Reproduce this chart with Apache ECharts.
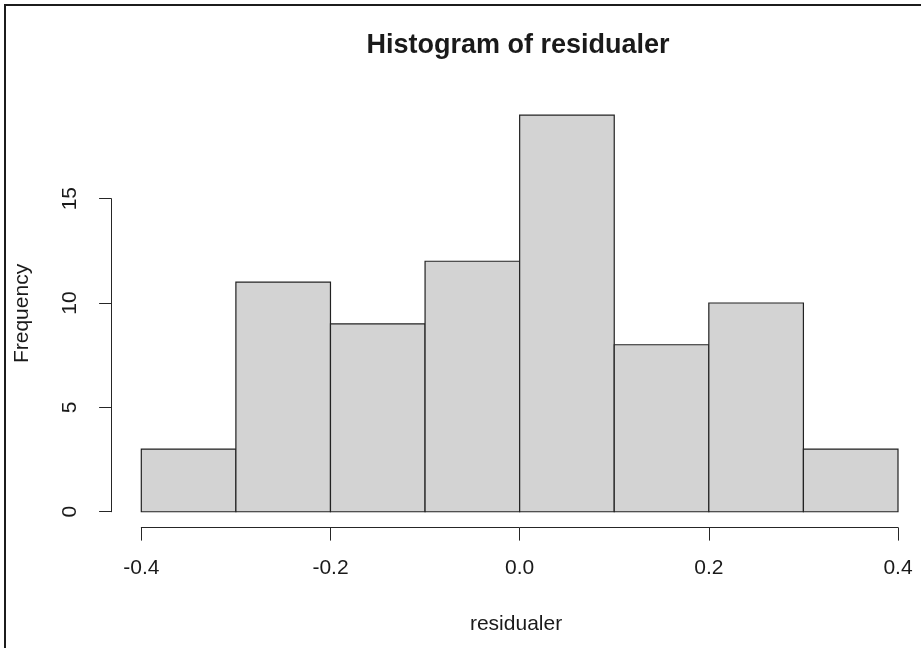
<!DOCTYPE html>
<html>
<head>
<meta charset="utf-8">
<style>
  html, body { margin: 0; padding: 0; background: #ffffff; }
  #chart { width: 921px; height: 648px; }
</style>
<script src="https://cdn.jsdelivr.net/npm/echarts@6/dist/echarts.min.js"></script>
</head>
<body>
<div id="chart"></div>
<script>
// Histogram bins (left edge, right edge) and counts
const binStarts = [-0.4, -0.3, -0.2, -0.1, 0.0, 0.1, 0.2, 0.3];
const binEnds   = [-0.3, -0.2, -0.1, 0.0, 0.1, 0.2, 0.3, 0.4];
const counts    = [3, 11, 9, 12, 19, 8, 10, 3];

// Tick values for the two axes
const xTicks = [-0.4, -0.2, 0.0, 0.2, 0.4];
const yTicks = [0, 5, 10, 15];

const titleText = 'Histogram of residualer';
const xLabel = 'residualer';
const yLabel = 'Frequency';

const FONT = '"Liberation Sans", Arial, sans-serif';
const INK = '#1a1a1a';

// Plot region spans the data range expanded by 4% on each side
const xMin = xTicks[0], xMax = xTicks[xTicks.length - 1];
const xPad = (xMax - xMin) * 0.04;
const yTop = Math.max.apply(null, counts);
const yPad = yTop * 0.04;

const binData = binStarts.map((s, i) => [s, binEnds[i], counts[i]]);

// Pixel layout
const regionLeft = 111.1, regionTop = 99.3, regionH = 428.3;
const xAxisLeft = 141.3, xAxisW = 756.7;
const pxPerY = regionH / (yTop + 2 * yPad);
const zeroY = regionTop + regionH - yPad * pxPerY;
const yAxisTop = zeroY - yTicks[yTicks.length - 1] * pxPerY;
const labelGridW = 2 * (518 - regionLeft);

const chart = echarts.init(document.getElementById('chart'), null, { renderer: 'canvas' });

chart.setOption({
  animation: false,
  backgroundColor: '#ffffff',
  title: {
    text: titleText,
    left: 518,
    top: 32,
    padding: 0,
    textAlign: 'center',
    textStyle: { fontFamily: FONT, fontSize: 27, fontWeight: 'bold', color: INK }
  },
  grid: [
    // region used for the axis titles
    { left: regionLeft, top: regionTop, width: labelGridW, height: regionH },
    // data area: bars and the x axis
    { left: xAxisLeft, top: regionTop, width: xAxisW, height: regionH },
    // y axis, drawn from 0 to 15 only
    { left: regionLeft, top: yAxisTop, width: labelGridW, height: zeroY - yAxisTop }
  ],
  xAxis: [
    {
      gridIndex: 0, type: 'value', min: 0, max: 1,
      axisLine: { show: false }, axisTick: { show: false }, axisLabel: { show: false },
      splitLine: { show: false },
      name: xLabel, nameLocation: 'middle', nameGap: 86,
      nameTextStyle: { fontFamily: FONT, fontSize: 21, color: INK }
    },
    {
      gridIndex: 1, type: 'value', min: xMin, max: xMax, interval: 0.2,
      axisLine: { show: true, onZero: false, lineStyle: { color: '#262626', width: 1 } },
      axisTick: { show: true, length: 13, lineStyle: { color: '#262626', width: 1 } },
      axisLabel: {
        margin: 30, fontFamily: FONT, fontSize: 21, color: INK,
        formatter: v => v.toFixed(1)
      },
      splitLine: { show: false }
    },
    {
      gridIndex: 2, type: 'value', min: 0, max: 1, show: false
    }
  ],
  yAxis: [
    {
      gridIndex: 0, type: 'value', min: -yPad, max: yTop + yPad,
      axisLine: { show: false }, axisTick: { show: false }, axisLabel: { show: false },
      splitLine: { show: false },
      name: yLabel, nameLocation: 'middle', nameGap: 78, nameRotate: 90,
      nameTextStyle: { fontFamily: FONT, fontSize: 21, color: INK }
    },
    {
      gridIndex: 1, type: 'value', min: -yPad, max: yTop + yPad, show: false
    },
    {
      gridIndex: 2, type: 'value', min: yTicks[0], max: yTicks[yTicks.length - 1], interval: 5,
      axisLine: { show: true, onZero: false, lineStyle: { color: '#262626', width: 1 } },
      axisTick: { show: true, length: 12, lineStyle: { color: '#262626', width: 1 } },
      axisLabel: { margin: 30, rotate: 90, fontFamily: FONT, fontSize: 21, color: INK },
      splitLine: { show: false }
    }
  ],
  series: [
    {
      type: 'custom',
      xAxisIndex: 1,
      yAxisIndex: 1,
      data: binData,
      encode: { x: [0, 1], y: 2 },
      renderItem: function (params, api) {
        const p0 = api.coord([api.value(0), 0]);
        const p1 = api.coord([api.value(1), api.value(2)]);
        return {
          type: 'rect',
          shape: { x: p0[0], y: p1[1], width: p1[0] - p0[0], height: p0[1] - p1[1] },
          style: { fill: '#d3d3d3', stroke: '#222222', lineWidth: 1.2 }
        };
      }
    }
  ],
  graphic: [
    { type: 'line', shape: { x1: 4, y1: 5, x2: 921, y2: 5 }, style: { stroke: '#1c1c1c', lineWidth: 2 } },
    { type: 'line', shape: { x1: 5, y1: 4, x2: 5, y2: 648 }, style: { stroke: '#1c1c1c', lineWidth: 2 } }
  ]
});
</script>
</body>
</html>
